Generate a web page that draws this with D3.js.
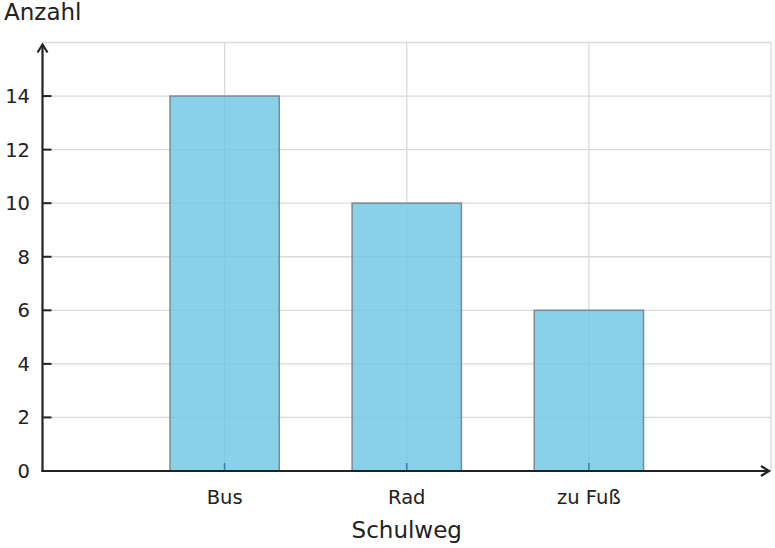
<!DOCTYPE html>
<html>
<head>
<meta charset="utf-8">
<script src="https://cdn.jsdelivr.net/npm/d3@7"></script>
<style>
  body { margin: 0; background: #fff; }
  text { font-family: "DejaVu Sans", sans-serif; fill: #222; }
</style>
</head>
<body>
<div id="chart"></div>
<script>
// chart data
const categories = ["Bus", "Rad", "zu Fuß"];
const counts = [14, 10, 6];
const yTicks = [0, 2, 4, 6, 8, 10, 12, 14];
const xTitle = "Schulweg";
const yTitle = "Anzahl";

const W = 775, H = 548;
const plotLeft = 42.5, plotBottom = 471, plotTop = 42.5, plotRight = 771;

const svg = d3.select("#chart").append("svg")
  .attr("width", W).attr("height", H);

// x positions 1..3 on a 0..4 line
const x = d3.scaleLinear().domain([0, 4]).range([plotLeft, plotRight]);
const y = d3.scaleLinear().domain([0, 16]).range([plotBottom, plotTop]);

// grid
const grid = svg.append("g").attr("stroke", "#d9d9d9").attr("stroke-width", 1.3);
grid.selectAll(".h").data(yTicks.concat([16])).join("line")
  .attr("x1", plotLeft).attr("x2", plotRight)
  .attr("y1", d => y(d)).attr("y2", d => y(d));
grid.selectAll(".v").data([1, 2, 3, 4]).join("line")
  .attr("x1", d => x(d)).attr("x2", d => x(d))
  .attr("y1", plotTop).attr("y2", plotBottom);

// bars
const barW = 0.6;
svg.selectAll(".bar").data(counts).join("rect")
  .attr("class", "bar")
  .attr("x", (d, i) => x(i + 1 - barW / 2))
  .attr("width", x(barW) - x(0))
  .attr("y", d => y(d))
  .attr("height", d => y(0) - y(d))
  .attr("fill", "rgb(111,198,228)")
  .attr("fill-opacity", 0.82)
  .attr("stroke", "#7a8a94")
  .attr("stroke-width", 1.5);

// x ticks (inward)
svg.selectAll(".xt").data(categories).join("line")
  .attr("x1", (d, i) => x(i + 1)).attr("x2", (d, i) => x(i + 1))
  .attr("y1", plotBottom).attr("y2", plotBottom - 8)
  .attr("stroke", "#3a86a6").attr("stroke-width", 1.6);

// y ticks (inward)
svg.selectAll(".yt").data(yTicks.slice(1)).join("line")
  .attr("x1", plotLeft).attr("x2", plotLeft + 9)
  .attr("y1", d => y(d)).attr("y2", d => y(d))
  .attr("stroke", "#222").attr("stroke-width", 2);

// axes with arrows
const axis = svg.append("g").attr("stroke", "#222").attr("stroke-width", 2.2).attr("fill", "none");
axis.append("line").attr("x1", plotLeft).attr("x2", plotLeft).attr("y1", plotBottom + 1).attr("y2", plotTop + 2);
axis.append("path").attr("d", `M${plotLeft - 5},${plotTop + 10} L${plotLeft},${plotTop + 2} L${plotLeft + 5},${plotTop + 10}`);
axis.append("line").attr("x1", plotLeft - 1).attr("x2", plotRight - 2).attr("y1", plotBottom).attr("y2", plotBottom);
axis.append("path").attr("d", `M${plotRight - 10},${plotBottom - 5} L${plotRight - 2},${plotBottom} L${plotRight - 10},${plotBottom + 5}`);

// tick labels
svg.selectAll(".yl").data(yTicks).join("text")
  .attr("x", 30).attr("y", d => y(d) + 7)
  .attr("text-anchor", "end").attr("font-size", 19.5)
  .text(d => d);

svg.selectAll(".xl").data(categories).join("text")
  .attr("x", (d, i) => x(i + 1)).attr("y", 504)
  .attr("text-anchor", "middle").attr("font-size", 19.5)
  .text(d => d);

// titles
svg.append("text").attr("x", x(2)).attr("y", 538)
  .attr("text-anchor", "middle").attr("font-size", 23).text(xTitle);
svg.append("text").attr("x", 4).attr("y", 20)
  .attr("font-size", 23).text(yTitle);
</script>
</body>
</html>
